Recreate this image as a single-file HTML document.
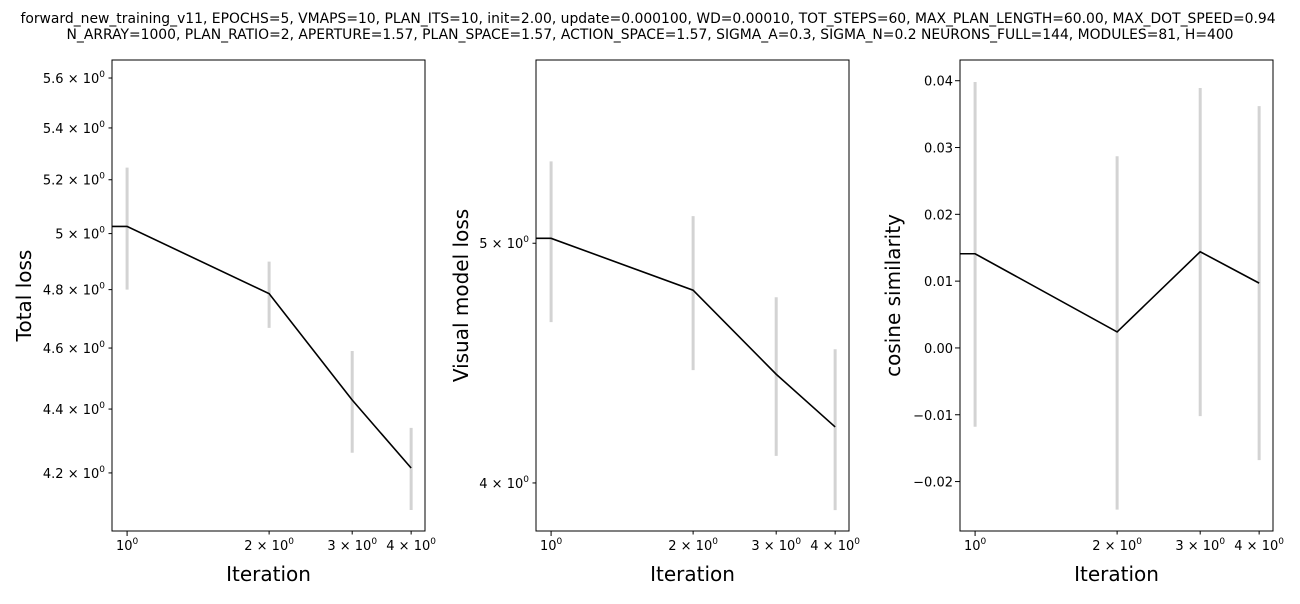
<!DOCTYPE html>
<html><head><meta charset="utf-8"><style>
body{margin:0;background:#fff;width:1300px;height:600px;overflow:hidden;font-family:"DejaVu Sans","Liberation Sans",sans-serif}
svg text{font-family:"DejaVu Sans","Liberation Sans",sans-serif}
</style></head><body>
<svg id="chart" width="1300" height="600" xmlns="http://www.w3.org/2000/svg">
<text x="648" y="23" text-anchor="middle" font-size="13.9">forward_new_training_v11, EPOCHS=5, VMAPS=10, PLAN_ITS=10, init=2.00, update=0.000100, WD=0.00010, TOT_STEPS=60, MAX_PLAN_LENGTH=60.00, MAX_DOT_SPEED=0.94</text>
<text x="650" y="39" text-anchor="middle" font-size="13.9">N_ARRAY=1000, PLAN_RATIO=2, APERTURE=1.57, PLAN_SPACE=1.57, ACTION_SPACE=1.57, SIGMA_A=0.3, SIGMA_N=0.2 NEURONS_FULL=144, MODULES=81, H=400</text>
</svg>
<script>
const iterations=[1,2,3,4];
const totalMean=[5.026,4.786,4.429,4.215];
const totalLo=[4.80,4.668,4.262,4.088];
const totalHi=[5.246,4.899,4.59,4.34];
const visMean=[5.023,4.786,4.426,4.214];
const visLo=[4.646,4.443,4.102,3.90];
const visHi=[5.396,5.128,4.755,4.53];
const cosMean=[0.0141,0.0024,0.0144,0.0097];
const cosLo=[-0.0118,-0.0242,-0.0102,-0.0168];
const cosHi=[0.0398,0.0287,0.0389,0.0362];
const totalTicks=[4.2,4.4,4.6,4.8,5.0,5.2,5.4,5.6];
const totalTickLabels=["4.2","4.4","4.6","4.8","5","5.2","5.4","5.6"];
const visTicks=[4,5];
const visTickLabels=["4","5"];
const cosTicks=[-0.02,-0.01,0,0.01,0.02,0.03,0.04];
const cosTickLabels=["−0.02","−0.01","0.00","0.01","0.02","0.03","0.04"];
const xTicks=[1,2,3,4];
const xTickLabels=["1","2","3","4"];

const NS="http://www.w3.org/2000/svg";
const svg=document.getElementById('chart');
function mk(tag,attrs,parent){const e=document.createElementNS(NS,tag);for(const k in attrs)e.setAttribute(k,attrs[k]);(parent||svg).appendChild(e);return e;}

function panel(cfg){
  const L=cfg.x0,R=cfg.x0+313,T=60,B=531;
  const g=mk('g',{});
  
  
  const xmin=Math.log(0.929),xmax=Math.log(4.28);
  const sx=v=>L+(Math.log(v)-xmin)/(xmax-xmin)*(R-L);
  let sy;
  if(cfg.log){const a=Math.log(cfg.ymin),b=Math.log(cfg.ymax);sy=v=>B-(Math.log(v)-a)/(b-a)*(B-T);}
  else sy=v=>B-(v-cfg.ymin)/(cfg.ymax-cfg.ymin)*(B-T);
  for(let i=0;i<iterations.length;i++){
    const el=mk('line',{x1:sx(iterations[i]),x2:sx(iterations[i]),y1:sy(cfg.hi[i]),y2:sy(cfg.lo[i]),stroke:'#d3d3d3','stroke-width':3},g);
    
    
  }
  let d='M'+L+','+sy(cfg.mean[0]);
  for(let i=0;i<iterations.length;i++)d+=' L'+sx(iterations[i])+','+sy(cfg.mean[i]);
  const ln=mk('path',{d:d,fill:'none',stroke:'#000','stroke-width':1.6},g);
  
  
  mk('rect',{x:L,y:T,width:R-L,height:B-T,fill:'none',stroke:'#000','stroke-width':1},g);
  for(let i=0;i<xTicks.length;i++){
    const x=sx(xTicks[i]);
    mk('line',{x1:x,x2:x,y1:B,y2:B+(i==0?5:3.5),stroke:'#000'},g);
    const t=mk('text',{x:x,y:B+19,'text-anchor':'middle','font-size':13},g);
    
    
    if(i==0){t.innerHTML='10<tspan font-size="9" dy="-6">0</tspan>';}
    else t.innerHTML=xTickLabels[i]+' × 10<tspan font-size="9" dy="-6">0</tspan>';
  }
  for(let i=0;i<cfg.ticks.length;i++){
    const y=sy(cfg.ticks[i]);
    mk('line',{x1:L,x2:L-(cfg.log?3.5:5),y1:y,y2:y,stroke:'#000'},g);
    const t=mk('text',{x:L-7,y:y+5,'text-anchor':'end','font-size':13},g);
    
    
    if(cfg.log)t.innerHTML=cfg.labels[i]+' × 10<tspan font-size="9" dy="-6">0</tspan>';
    else t.textContent=cfg.labels[i];
  }
  const xl=mk('text',{x:(L+R)/2,y:581,'text-anchor':'middle','font-size':20},g);
  xl.textContent='Iteration';
  
  
  const yl=mk('text',{x:0,y:0,'text-anchor':'middle','font-size':20,transform:`translate(${cfg.ylx},${(T+B)/2}) rotate(-90)`},g);
  yl.textContent=cfg.ylabel;
  
  
}
panel({name:'total-loss-panel',x0:112,log:true,ymin:4.026,ymax:5.674,mean:totalMean,lo:totalLo,hi:totalHi,ticks:totalTicks,labels:totalTickLabels,ylabel:'Total loss',ylx:31});
panel({name:'visual-loss-panel',x0:536,log:true,ymin:3.825,ymax:5.93,mean:visMean,lo:visLo,hi:visHi,ticks:visTicks,labels:visTickLabels,ylabel:'Visual model loss',ylx:468});
panel({name:'cosine-panel',x0:960,log:false,ymin:-0.0274,ymax:0.0431,mean:cosMean,lo:cosLo,hi:cosHi,ticks:cosTicks,labels:cosTickLabels,ylabel:'cosine similarity',ylx:900});
</script>
</body></html>
